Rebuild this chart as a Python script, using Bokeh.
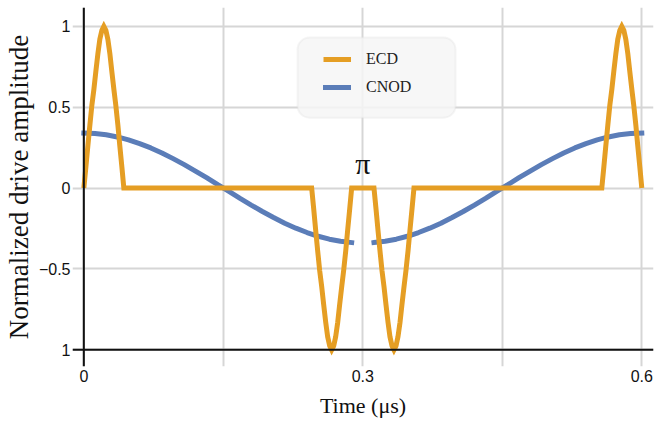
from bokeh.plotting import figure
from bokeh.models import (Range1d, FixedTicker, Span, BoxAnnotation, Legend, LegendItem, Label)
from bokeh.embed import file_html
from bokeh.resources import INLINE

# ---------------- data ----------------
ecd_x = [0.0, 0.0022, 0.0043, 0.0065, 0.0086, 0.0108, 0.0129, 0.0151, 0.0172, 0.0194, 0.0215,
         0.0237, 0.0258, 0.0280, 0.0301, 0.0323, 0.0344, 0.0366, 0.0387, 0.0409, 0.043,
         0.245, 0.2472, 0.2493, 0.2515, 0.2536, 0.2558, 0.2579, 0.2601, 0.2622, 0.2644, 0.2665,
         0.2687, 0.2708, 0.2730, 0.2751, 0.2773, 0.2794, 0.2816, 0.2837, 0.2859, 0.288,
         0.312, 0.3142, 0.3163, 0.3185, 0.3206, 0.3228, 0.3249, 0.3271, 0.3292, 0.3314, 0.3335,
         0.3357, 0.3378, 0.3400, 0.3421, 0.3443, 0.3464, 0.3486, 0.3507, 0.3529, 0.355,
         0.557, 0.5592, 0.5613, 0.5635, 0.5656, 0.5678, 0.5699, 0.5721, 0.5742, 0.5764, 0.5785,
         0.5807, 0.5828, 0.5850, 0.5871, 0.5893, 0.5914, 0.5936, 0.5957, 0.5979, 0.600]
ecd_y = [0, 0.13, 0.26, 0.39, 0.51, 0.61, 0.72, 0.83, 0.92, 0.975, 1.0,
         0.975, 0.92, 0.83, 0.72, 0.61, 0.51, 0.39, 0.26, 0.13, 0,
         0, -0.13, -0.26, -0.39, -0.51, -0.61, -0.72, -0.83, -0.92, -0.975, -1.0,
         -0.975, -0.92, -0.83, -0.72, -0.61, -0.51, -0.39, -0.26, -0.13, 0,
         0, -0.13, -0.26, -0.39, -0.51, -0.61, -0.72, -0.83, -0.92, -0.975, -1.0,
         -0.975, -0.92, -0.83, -0.72, -0.61, -0.51, -0.39, -0.26, -0.13, 0,
         0, 0.13, 0.26, 0.39, 0.51, 0.61, 0.72, 0.83, 0.92, 0.975, 1.0,
         0.975, 0.92, 0.83, 0.72, 0.61, 0.51, 0.39, 0.26, 0.13, 0]

cnod_left_x = [0.0, 0.012, 0.024, 0.036, 0.048, 0.060, 0.072, 0.084, 0.096, 0.108, 0.120, 0.132,
               0.144, 0.156, 0.168, 0.180, 0.192, 0.204, 0.216, 0.228, 0.240, 0.252, 0.264,
               0.276, 0.288]
cnod_left_y = [0.340, 0.337, 0.329, 0.316, 0.298, 0.275, 0.248, 0.217, 0.182, 0.145, 0.105,
               0.064, 0.021, -0.021, -0.064, -0.105, -0.145, -0.182, -0.217, -0.248, -0.275,
               -0.298, -0.316, -0.329, -0.337]
cnod_right_x = [0.312, 0.324, 0.336, 0.348, 0.360, 0.372, 0.384, 0.396, 0.408, 0.420, 0.432,
                0.444, 0.456, 0.468, 0.480, 0.492, 0.504, 0.516, 0.528, 0.540, 0.552, 0.564,
                0.576, 0.588, 0.600]
cnod_right_y = [-0.337, -0.329, -0.316, -0.298, -0.275, -0.248, -0.217, -0.182, -0.145, -0.105,
                -0.064, -0.021, 0.021, 0.064, 0.105, 0.145, 0.182, 0.217, 0.248, 0.275, 0.298,
                0.316, 0.329, 0.337, 0.340]

series_names = ["ECD", "CNOD"]
x_tick_values = [0, 0.3, 0.6]
x_tick_labels = ["0", "0.3", "0.6"]
x_grid_values = [0, 0.15, 0.3, 0.45, 0.6]
y_tick_values = [-1, -0.5, 0, 0.5, 1]
y_tick_labels = ["1", "\u22120.5", "0", "0.5", "1"]

# ---------------- styling ----------------
ORANGE = "#E59E24"
BLUE = "#5B7DB8"
GRID = "#d6d6d6"
SERIF = "Liberation Serif"
SANS = "Liberation Sans"

p = figure(width=654, height=422, output_backend="svg", toolbar_location=None,
           x_range=Range1d(-0.0122, 0.6126), y_range=Range1d(-1.103, 1.116),
           min_border_left=72, min_border_right=1, min_border_top=7, min_border_bottom=56)
p.outline_line_color = None
p.background_fill_color = "white"
p.border_fill_color = "white"

# grids
p.xgrid.ticker = FixedTicker(ticks=x_grid_values)
p.ygrid.ticker = FixedTicker(ticks=y_tick_values)
for g in (p.xgrid, p.ygrid):
    g.grid_line_color = GRID
    g.grid_line_width = 2

# axes (labels only; the axis lines are spans at x=0 and y=-1)
xa = p.xaxis[0]
xa.ticker = FixedTicker(ticks=x_tick_values)
xa.major_label_overrides = {v: s for v, s in zip(x_tick_values, x_tick_labels)}
xa.axis_line_color = None
xa.major_tick_line_color = None
xa.minor_tick_line_color = None
xa.major_tick_out = 0
xa.major_tick_in = 0
xa.major_label_standoff = 3
xa.major_label_text_font = SANS
xa.major_label_text_font_size = "16px"
xa.major_label_text_color = "#111111"
xa.axis_label = "Time (\u03bcs)"
xa.axis_label_text_font = SERIF
xa.axis_label_text_font_size = "22px"
xa.axis_label_text_font_style = "normal"
xa.axis_label_text_color = "#111111"
xa.axis_label_standoff = 8

ya = p.yaxis[0]
ya.ticker = FixedTicker(ticks=y_tick_values)
ya.major_label_overrides = {v: s for v, s in zip(y_tick_values, y_tick_labels)}
ya.axis_line_color = None
ya.major_tick_line_color = None
ya.minor_tick_line_color = None
ya.major_tick_out = 0
ya.major_tick_in = 0
ya.major_label_standoff = 2
ya.major_label_text_font = SANS
ya.major_label_text_font_size = "16px"
ya.major_label_text_color = "#111111"
ya.axis_label = "Normalized drive amplitude"
ya.axis_label_text_font = SERIF
ya.axis_label_text_font_size = "27px"
ya.axis_label_text_font_style = "normal"
ya.axis_label_text_color = "#111111"
ya.axis_label_standoff = 2

p.add_layout(Span(location=0, dimension="height", line_color="#111111", line_width=2))
p.add_layout(Span(location=-1, dimension="width", line_color="#111111", line_width=2))

# lines
r_c1 = p.line(cnod_left_x, cnod_left_y, line_color=BLUE, line_width=5, line_cap="square")
r_c2 = p.line(cnod_right_x, cnod_right_y, line_color=BLUE, line_width=5, line_cap="square")
r_e = p.line(ecd_x, ecd_y, line_color=ORANGE, line_width=5, line_join="miter")

# pi label
p.add_layout(Label(x=0.3, y=0.152, text="\u03c0", text_align="center", text_baseline="middle",
                   text_font=SERIF, text_font_size="30px", text_color="#111111"))

# legend box
p.add_layout(BoxAnnotation(left=0.2298, right=0.3997, top=0.930, bottom=0.435,
                           fill_color="#f6f6f6", fill_alpha=0.85,
                           line_color="#dedede", line_width=2, border_radius=12))

legend = Legend(items=[LegendItem(label=series_names[0], renderers=[r_e]),
                       LegendItem(label=series_names[1], renderers=[r_c1, r_c2])],
                location=(251, 269), margin=0, padding=0, spacing=8,
                glyph_width=28, glyph_height=20, label_height=20, label_standoff=15,
                label_text_font=SERIF, label_text_font_size="16px", label_text_color="#222222",
                background_fill_alpha=0, border_line_alpha=0)
p.add_layout(legend, "center")

open("out.html", "w").write(file_html(p, INLINE))
